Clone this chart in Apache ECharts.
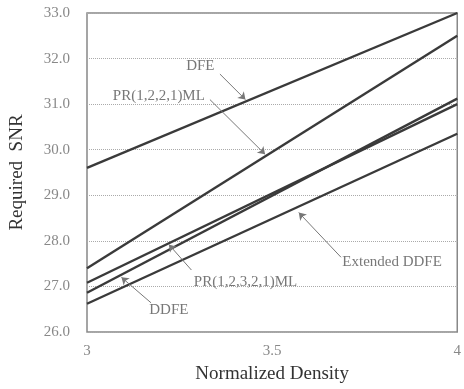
<!DOCTYPE html>
<html>
<head>
<meta charset="utf-8">
<script src="https://cdn.jsdelivr.net/npm/echarts@6/dist/echarts.min.js"></script>
<style>
  html, body { margin: 0; padding: 0; background: #fff; }
  #chart { width: 464px; height: 389px; }
</style>
</head>
<body>
<div id="chart"></div>
<script>
// normalized density at the two ends of each curve
const density = [3, 4];
const dfe = [29.6, 33.0];
const pr1221 = [27.4, 32.5];
const pr12321 = [27.08, 31.0];
const ddfe = [26.86, 31.12];
const extDdfe = [26.62, 30.35];

const xTicks = [3, 3.5, 4];
const yTicks = [26, 27, 28, 29, 30, 31, 32, 33];

// label text, text anchor, arrow start, arrow tip (data coordinates)
const notes = [
  ['DFE', [3.306, 31.83], [3.359, 31.66], [3.428, 31.10]],
  ['PR(1,2,2,1)ML', [3.194, 31.18], [3.332, 31.10], [3.481, 29.90]],
  ['PR(1,2,3,2,1)ML', [3.428, 27.10], [3.282, 27.36], [3.221, 27.92]],
  ['DDFE', [3.221, 26.49], [3.173, 26.64], [3.093, 27.20]],
  ['Extended DDFE', [3.824, 27.53], [3.686, 27.64], [3.572, 28.62]]
];

const font = '"Liberation Serif", "Times New Roman", serif';
const curves = [dfe, pr1221, pr12321, ddfe, extDdfe];

const series = curves.map(function (vals) {
  return {
    type: 'line',
    showSymbol: false,
    silent: true,
    data: density.map(function (x, i) { return [x, vals[i]]; }),
    lineStyle: { color: '#3a3a3a', width: 2.4 }
  };
});

series.push({
  type: 'scatter',
  symbolSize: 0,
  silent: true,
  data: notes.map(function (n) { return { name: n[0], value: n[1] }; }),
  label: {
    show: true,
    position: 'inside',
    formatter: '{b}',
    fontFamily: font,
    fontSize: 15,
    color: '#555'
  },
  markLine: {
    silent: true,
    symbolSize: 7,
    animation: false,
    label: { show: false },
    lineStyle: { color: '#777', width: 1, type: 'solid' },
    data: notes.map(function (n) {
      return [
        { coord: n[2], symbol: 'none' },
        { coord: n[3], symbol: 'arrow' }
      ];
    })
  }
});

const myChart = echarts.init(document.getElementById('chart'));
myChart.setOption({
  animation: false,
  grid: {
    left: 87,
    right: 1,
    top: 13,
    bottom: 53,
    show: true,
    borderColor: '#888',
    borderWidth: 1.5
  },
  xAxis: {
    type: 'value',
    min: 3,
    max: 4,
    interval: 0.5,
    name: 'Normalized Density',
    nameLocation: 'middle',
    nameGap: 33,
    nameTextStyle: { fontFamily: font, fontSize: 19, color: '#333' },
    axisLine: { show: false },
    axisTick: { show: false },
    splitLine: { show: false },
    axisLabel: {
      margin: 12,
      fontFamily: font,
      fontSize: 15,
      color: '#888',
      formatter: function (v) { return xTicks.indexOf(v) >= 0 ? String(v) : ''; }
    }
  },
  yAxis: {
    type: 'value',
    min: yTicks[0],
    max: yTicks[yTicks.length - 1],
    interval: 1,
    name: 'Required  SNR',
    nameLocation: 'middle',
    nameGap: 60,
    nameTextStyle: { fontFamily: font, fontSize: 19, color: '#333' },
    axisLine: { show: false },
    axisTick: { show: false },
    splitLine: { lineStyle: { color: '#aaa', type: 'dotted', width: 1 } },
    axisLabel: {
      margin: 17,
      fontFamily: font,
      fontSize: 15,
      color: '#888',
      formatter: function (v) { return v.toFixed(1); }
    }
  },
  series: series
});
</script>
</body>
</html>
